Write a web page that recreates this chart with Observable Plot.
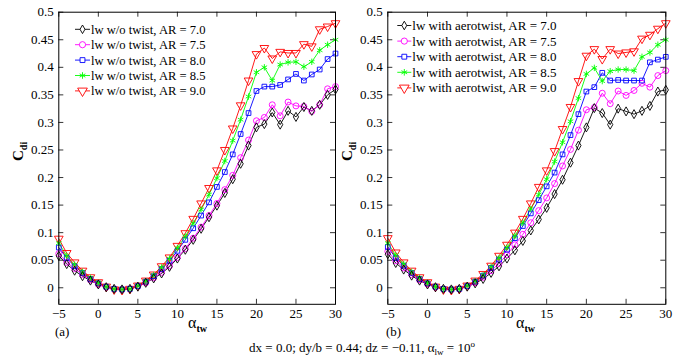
<!DOCTYPE html>
<html><head><meta charset="utf-8">
<script src="https://cdn.jsdelivr.net/npm/d3@7"></script>
<script src="https://cdn.jsdelivr.net/npm/@observablehq/plot@0.6"></script>
<style>
body{margin:0;background:#fff;}
#wrap{position:relative;width:686px;height:363px;background:#fff;}
#wrap > svg{position:absolute;top:0;}
</style></head><body><div id="wrap"></div>
<script>
// alpha_tw values
const alpha = [-5,-4,-3,-2,-1,0,1,2,3,4,5,6,7,8,9,10,11,12,13,14,15,16,17,18,19,20,21,22,23,24,25,26,27,28,29,30];
const arKeys = ["7.0","7.5","8.0","8.5","9.0"];
const colors = ["#000000","#ff00ff","#0000ff","#00ff00","#ff0000"];
const symbols = ["diamond","circle","square2","asterisk","triangle"];
const xTicks = [-5,0,5,10,15,20,25,30];
const yTicks = [0,0.05,0.1,0.15,0.2,0.25,0.3,0.35,0.4,0.45,0.5];

// (a) lw w/o twist
const a70 = [0.058,0.043,0.031,0.021,0.013,0.006,0.001,-0.002,-0.003,-0.002,0.002,0.009,0.017,0.026,0.038,0.053,0.069,0.087,0.107,0.128,0.149,0.172,0.197,0.225,0.258,0.291,0.297,0.318,0.296,0.321,0.310,0.328,0.321,0.332,0.350,0.360];
const a75 = [0.062,0.046,0.035,0.024,0.014,0.006,0.001,-0.002,-0.003,-0.002,0.003,0.009,0.018,0.028,0.040,0.055,0.071,0.090,0.110,0.131,0.153,0.178,0.204,0.236,0.268,0.303,0.309,0.332,0.312,0.337,0.330,0.329,0.320,0.332,0.361,0.365];
const a80 = [0.073,0.054,0.039,0.027,0.016,0.008,0.002,-0.002,-0.003,-0.002,0.003,0.011,0.021,0.034,0.049,0.067,0.087,0.108,0.131,0.155,0.183,0.210,0.242,0.279,0.317,0.357,0.365,0.365,0.368,0.378,0.388,0.376,0.387,0.396,0.415,0.425];
const a85 = [0.081,0.058,0.042,0.029,0.018,0.009,0.002,-0.002,-0.003,-0.002,0.004,0.012,0.023,0.037,0.053,0.072,0.093,0.117,0.142,0.169,0.199,0.230,0.267,0.305,0.347,0.391,0.400,0.376,0.405,0.409,0.410,0.401,0.410,0.431,0.441,0.450];
const a90 = [0.089,0.063,0.046,0.031,0.019,0.010,0.002,-0.003,-0.004,-0.002,0.004,0.013,0.024,0.039,0.055,0.076,0.099,0.125,0.153,0.181,0.213,0.250,0.289,0.331,0.376,0.424,0.435,0.416,0.428,0.426,0.426,0.442,0.438,0.469,0.474,0.480];

// (b) lw with aerotwist
const b70 = [0.061,0.045,0.033,0.022,0.013,0.006,0.001,-0.002,-0.003,-0.002,0.002,0.008,0.016,0.027,0.039,0.053,0.068,0.085,0.104,0.124,0.145,0.170,0.196,0.227,0.258,0.291,0.326,0.317,0.296,0.325,0.320,0.315,0.321,0.330,0.356,0.359];
const b75 = [0.066,0.049,0.036,0.024,0.014,0.007,0.001,-0.002,-0.003,-0.002,0.003,0.009,0.019,0.031,0.044,0.060,0.078,0.097,0.118,0.140,0.163,0.189,0.221,0.251,0.286,0.323,0.327,0.353,0.334,0.357,0.349,0.358,0.371,0.364,0.385,0.394];
const b80 = [0.074,0.054,0.040,0.027,0.016,0.008,0.002,-0.002,-0.003,-0.002,0.003,0.011,0.022,0.036,0.051,0.069,0.090,0.112,0.135,0.159,0.184,0.209,0.242,0.277,0.315,0.356,0.364,0.390,0.376,0.377,0.376,0.376,0.376,0.409,0.414,0.419];
const b85 = [0.081,0.059,0.043,0.029,0.018,0.009,0.002,-0.002,-0.003,-0.002,0.004,0.012,0.023,0.038,0.054,0.073,0.094,0.118,0.143,0.169,0.197,0.229,0.264,0.302,0.344,0.388,0.399,0.375,0.393,0.396,0.396,0.394,0.419,0.427,0.441,0.450];
const b90 = [0.090,0.064,0.046,0.031,0.019,0.010,0.002,-0.003,-0.004,-0.002,0.004,0.013,0.025,0.040,0.058,0.078,0.100,0.125,0.153,0.183,0.213,0.248,0.288,0.328,0.375,0.421,0.433,0.415,0.433,0.425,0.427,0.429,0.452,0.459,0.470,0.480];

const seriesA = [a70,a75,a80,a85,a90];
const seriesB = [b70,b75,b80,b85,b90];

function rowsOf(series){
  return series.flatMap((vals,k)=>alpha.map((a,i)=>({alpha:a, cdi:vals[i], key:arKeys[k]})));
}
const rOf = k => k==="9.0" ? 3.6 : k==="7.0" ? 2.6 : 3.1;

const FONT = "'Liberation Serif', 'Times New Roman', Times, serif";
const W = 343, H = 330, MT = 11.7, MB = H - 303.8;
function panel(series, ml, mr){
  const rows = rowsOf(series);
  const iw = W - ml - mr, ih = H - MT - MB;
  return Plot.plot({
    width: W, height: H,
    marginLeft: ml, marginRight: mr, marginTop: MT, marginBottom: MB,
    x: {domain: [-5,30]},
    y: {domain: [-0.03,0.5]},
    color: {domain: arKeys, range: colors},
    symbol: {domain: arKeys, range: symbols},
    style: {fontFamily: FONT, fontSize: "13px", color: "#000", background: "transparent", overflow: "visible"},
    marks: [
      Plot.ruleX(xTicks, {x: d=>d, insetTop: ih-5, stroke:"#000", strokeWidth:0.8}),
      Plot.ruleX(xTicks, {x: d=>d, insetBottom: ih-5, stroke:"#000", strokeWidth:0.8}),
      Plot.ruleY(yTicks, {y: d=>d, insetRight: iw-5, stroke:"#000", strokeWidth:0.8}),
      Plot.ruleY(yTicks, {y: d=>d, insetLeft: iw-5, stroke:"#000", strokeWidth:0.8}),
      Plot.axisX({ticks: xTicks, tickSize: 0, tickPadding: 4, label: null, fontSize: 13}),
      Plot.axisY({ticks: yTicks, tickSize: 0, tickPadding: 5, label: null, fontSize: 13, tickFormat: d3.format("~g")}),
      Plot.line(rows, {x:"alpha", y:"cdi", z:"key", stroke:"key", strokeWidth: 0.9}),
      Plot.dot(rows, {x:"alpha", y:"cdi", symbol:"key", stroke:"key", fill:"none", r: d=> rOf(d.key), rotate: d=> d.key==="9.0" ? 180 : 0, strokeWidth: 0.9}),
      Plot.frame({stroke:"#000", strokeWidth: 1})
    ]
  });
}

const wrap = document.getElementById("wrap");
const pA = panel(seriesA, 58.3, 8);
pA.style.left = "0px";
const pB = panel(seriesB, 44.3, 20.7);
pB.style.left = "343px";
wrap.appendChild(pA);
wrap.appendChild(pB);

// overlay: legends, axis labels, caption
const ov = d3.create("svg").attr("width",686).attr("height",363)
  .style("position","absolute").style("left","0px").style("top","0px")
  .style("font-family",FONT);

const symMap = {diamond: d3.symbolDiamond, circle: d3.symbolCircle, square2: d3.symbolSquare2, asterisk: d3.symbolAsterisk, triangle: d3.symbolTriangle};
function legend(x0, x1, y0, dy, prefix, fs){
  const g = ov.append("g");
  arKeys.forEach((k,i)=>{
    const y = y0 + i*dy;
    const xm = (x0+x1)/2;
    g.append("line").attr("x1",x0).attr("x2",x1).attr("y1",y).attr("y2",y).attr("stroke",colors[i]).attr("stroke-width",0.9);
    const r = rOf(k);
    g.append("path").attr("d", d3.symbol(symMap[symbols[i]], Math.PI*r*r)())
      .attr("transform",`translate(${xm},${y}) rotate(${i===4?180:0})`)
      .attr("fill","white").attr("stroke",colors[i]).attr("stroke-width",0.9);
    g.append("text").attr("x",x1+1).attr("y",y).attr("dy","0.35em").attr("font-size",fs).text(`${prefix}, AR = ${k}`);
  });
}
legend(75, 90, 29.3, 15.4, "lw w/o twist", 12.6);
legend(397.3, 411.3, 25.5, 15.6, "lw with aerotwist", 13);

function ylab(x, y){
  const t = ov.append("text").attr("transform",`translate(${x},${y}) rotate(-90)`).attr("font-weight","bold").attr("font-size",15);
  t.append("tspan").text("C");
  t.append("tspan").attr("dy",4).attr("font-size",10).text("di");
}
ylab(23, 161);
ylab(352, 161);

function xlab(x, y){
  const t = ov.append("text").attr("x",x).attr("y",y).attr("font-size",16);
  t.append("tspan").text("α");
  t.append("tspan").attr("dy",4).attr("font-size",10).attr("font-weight","bold").text("tw");
}
xlab(188, 328);
xlab(516, 328);

ov.append("text").attr("x",55).attr("y",336).attr("font-size",13).text("(a)");
ov.append("text").attr("x",386).attr("y",336).attr("font-size",13).text("(b)");

const cap = ov.append("text").attr("x",362).attr("y",352).attr("text-anchor","middle").attr("font-size",13);
cap.append("tspan").text("dx = 0.0; dy/b = 0.44; dz = \u22120.11, α");
cap.append("tspan").attr("dy",3).attr("font-size",9).text("lw");
cap.append("tspan").attr("dy",-3).text(" = 10");
cap.append("tspan").attr("dy",-5).attr("font-size",9).text("o");

wrap.appendChild(ov.node());
</script></body></html>
